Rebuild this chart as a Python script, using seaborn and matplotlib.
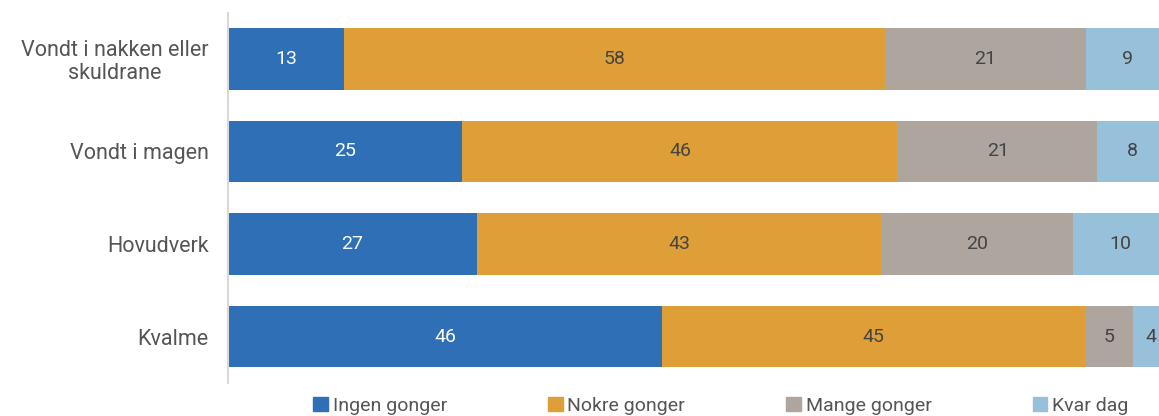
import pandas as pd
import seaborn as sns
import matplotlib.pyplot as plt

# data (segment widths in percent, shown labels rounded)
categories = ["Vondt i nakken eller\nskuldrane", "Vondt i magen", "Hovudverk", "Kvalme"]
series = ["Ingen gonger", "Nokre gonger", "Mange gonger", "Kvar dag"]
ingen = [12.3, 24.9, 26.5, 46.2]
nokre = [57.6, 46.4, 43.1, 45.0]
mange = [21.4, 21.2, 20.3, 5.1]
kvar = [8.7, 7.5, 10.1, 3.7]
ingen_lbl = [13, 25, 27, 46]
nokre_lbl = [58, 46, 43, 45]
mange_lbl = [21, 21, 20, 5]
kvar_lbl = [9, 8, 10, 4]

colors = ["#2E6FB5", "#DF9F38", "#ADA59E", "#97C1DB"]
label_colors = ["white", "#444444", "#444444", "#444444"]

df = pd.DataFrame({"cat": categories, series[0]: ingen, series[1]: nokre,
                   series[2]: mange, series[3]: kvar})
cum = df[series].cumsum(axis=1)
labels = [ingen_lbl, nokre_lbl, mange_lbl, kvar_lbl]

sns.set_style("white")
plt.rcParams["font.family"] = ["Roboto", "DejaVu Sans"]

fig = plt.figure(figsize=(11.59, 4.16), dpi=100)
ax = fig.add_axes([228 / 1159, 0.0799, 1 - 228 / 1159, 0.8895])

# stacked bars: draw cumulative totals from the outermost segment inwards
for i in range(len(series) - 1, -1, -1):
    sns.barplot(x=cum[series[i]], y=df["cat"], color=colors[i], orient="h",
                width=0.667, saturation=1, edgecolor="none", ax=ax)

for i, s in enumerate(series):
    starts = cum[s] - df[s]
    for j in range(len(categories)):
        ax.text(starts[j] + df[s][j] / 2, j, str(labels[i][j]), ha="center", va="center",
                fontsize=14, color=label_colors[i])

ax.set_xlim(0, 99.05)
ax.set_ylim(3.5, -0.5)
ax.set_xlabel("")
ax.set_ylabel("")
ax.set_xticks([])
for sp in ["top", "right", "bottom"]:
    ax.spines[sp].set_visible(False)
ax.spines["left"].set_color("#D9D9D9")
ax.spines["left"].set_linewidth(1.5)
ax.tick_params(axis="y", length=0, pad=14, labelsize=15.5, labelcolor="#555555")
for t in ax.get_yticklabels():
    t.set_multialignment("center")
    t.set_linespacing(1.1)

handles = [plt.Rectangle((0, 0), 1, 1, color=c) for c in colors]
fig.legend(handles, series, loc="center", bbox_to_anchor=(0.622, 0.025), ncol=4,
           frameon=False, fontsize=14, handlelength=0.75, handleheight=0.75,
           handletextpad=0.25, columnspacing=5.2, labelcolor="#555555")

fig.savefig("out.png", dpi=100)
